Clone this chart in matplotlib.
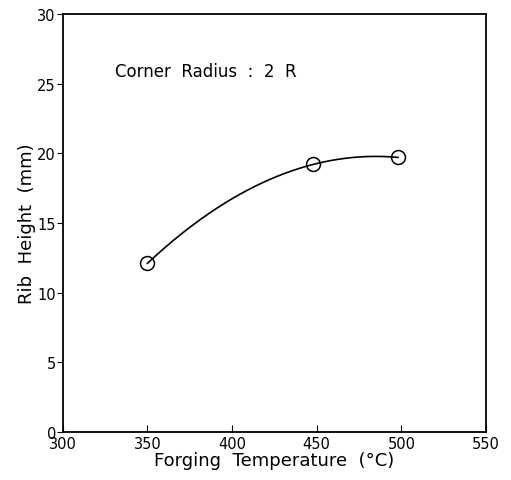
import numpy as np
import matplotlib
matplotlib.use("Agg")
import matplotlib.pyplot as plt

# values
temperature = [350, 448, 498]
rib_height = [12.1, 19.2, 19.7]

x_ticks = [300, 350, 400, 450, 500, 550]
y_ticks = [0, 5, 10, 15, 20, 25, 30]

plt.rcParams["font.family"] = ["DejaVu Sans"]

fig = plt.figure(figsize=(5.11, 4.81), dpi=100)
ax = fig.add_axes([0.123, 0.10, 0.828, 0.869])

# smooth curve through the measured points
coef = np.polyfit(temperature, rib_height, 2)
xs = np.linspace(temperature[0], temperature[-1], 200)
ax.plot(xs, np.polyval(coef, xs), color="black", lw=1.2, zorder=1)
ax.plot(temperature, rib_height, "o", ms=10, mfc="none", mec="black", mew=1.1, zorder=2)

ax.set_xlim(300, 550)
ax.set_ylim(0, 30)
ax.set_xticks(x_ticks)
ax.set_yticks(y_ticks)
ax.tick_params(axis="x", direction="in", length=5, labelsize=10.5, pad=3)
ax.tick_params(axis="y", direction="out", length=4, labelsize=10.5, pad=1)
for s in ax.spines.values():
    s.set_linewidth(1.3)

ax.set_xlabel("Forging  Temperature  (°C)", fontsize=13, labelpad=0)
ax.set_ylabel("Rib  Height  (mm)", fontsize=13, labelpad=1)

ax.text(331, 25.9, "Corner  Radius  :  2  R", fontsize=12, va="center", ha="left")

fig.savefig("out.png", dpi=100)
